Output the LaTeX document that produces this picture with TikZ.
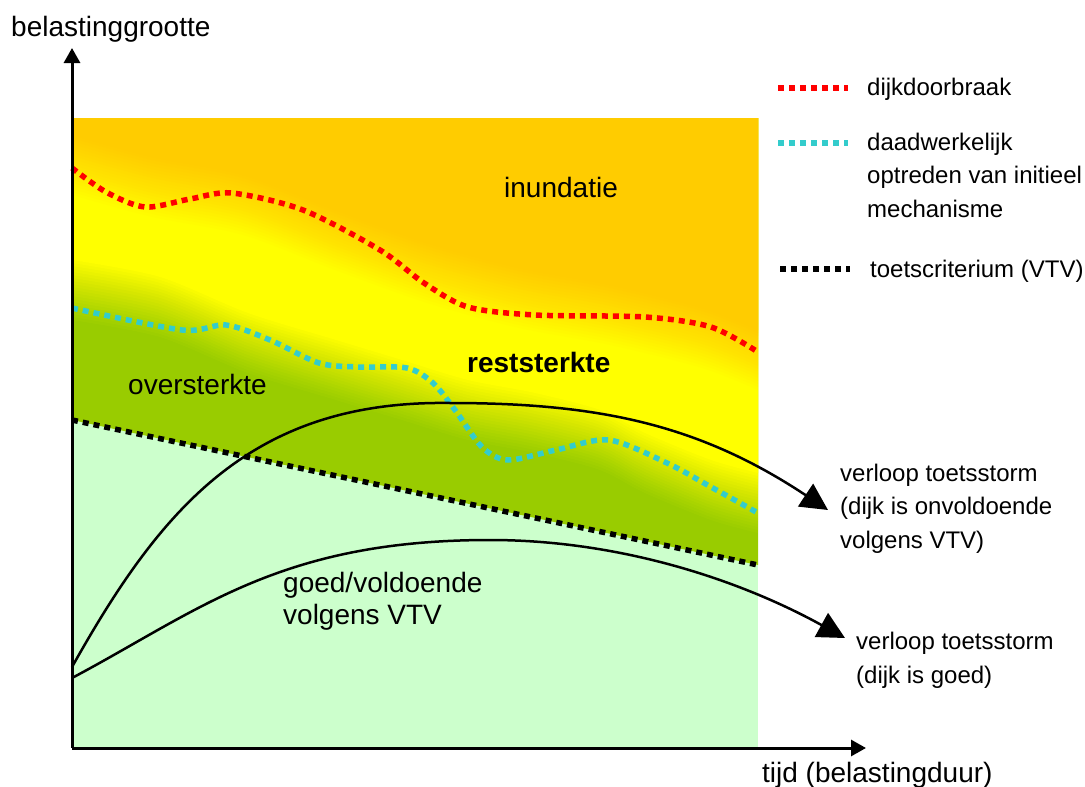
\documentclass[tikz,border=0pt]{standalone}
\usepackage{fontspec}
\setmainfont{Liberation Sans}
\usetikzlibrary{arrows.meta}

\definecolor{inund}{HTML}{FFCC00}
\definecolor{rest}{HTML}{FFFF00}
\definecolor{over}{HTML}{99CC00}
\definecolor{goed}{HTML}{CCFFCC}
\definecolor{breuk}{HTML}{FF0000}
\definecolor{init}{HTML}{33CCCC}

\tikzset{
  grens/.style={line width=5.5pt, dash pattern=on 6pt off 5pt},
  storm/.style={line width=2.5pt, -{Triangle[length=27pt,width=27pt]}},
  as/.style={line width=3pt, -{Triangle[length=15pt,width=16pt]}},
  groot/.style={font=\fontsize{28}{32}\selectfont, inner sep=0pt, align=left, anchor=base west},
  klein/.style={font=\fontsize{24}{33.3}\selectfont, inner sep=0pt, align=left, anchor=base west},
}

\begin{document}
\begin{tikzpicture}[x=1pt,y=-1pt]
\useasboundingbox (0,0) rectangle (1085,787);

\coordinate (o) at (72,748);
\coordinate (ytop) at (72,48);
\coordinate (xend) at (866,748);
\coordinate (t1) at (72,420);
\coordinate (t2) at (758,565);

% vlakken
\fill[goed] (72,118) rectangle (758,748);
\begin{scope}
\clip (72,118) rectangle (758,748);
\fill[over] (t1) -- (t2) -- (800,565) -- (800,60) -- (40,60) -- (40,420) -- cycle;

% zachte overgangen
\foreach \s [count=\k, evaluate=\k as \op using 1/(22-\k)] in {-30,-27,...,30} {
  \fill[rest, opacity=\op, yshift=\s pt] (40,60) -- (40,290)
    -- plot[smooth] coordinates {(72,290) (160,307) (248,343) (336,370) (402,390) (468,410) (535,423) (600,440) (645,463) (711,490) (758,503)}
    -- (800,503) -- (800,60) -- cycle;
}
\foreach \s [count=\k, evaluate=\k as \op using 1/(22-\k)] in {-30,-27,...,30} {
  \fill[inund, opacity=\op, yshift=\s pt] (40,60) -- (40,165)
    -- plot[smooth] coordinates {(72,165) (152,187) (243,205) (335,240) (427,273) (519,298) (610,315) (702,338) (758,360)}
    -- (800,360) -- (800,60) -- cycle;
}
\end{scope}

% grenzen
\draw[grens] (t1) -- (t2);
\draw[grens, init] plot[smooth] coordinates {(72,308) (182,330) (226,325) (270,340) (319,363) (358,367) (407,368) (433,383) (455,410) (482,447) (508,460) (556,450) (609,440) (667,463) (711,487) (758,513)};
\draw[grens, breuk] plot[smooth] coordinates {(72,168) (106,192) (145,207) (190,199) (232,193) (303,210) (380,250) (424,283) (468,307) (535,315) (645,317) (711,327) (758,352)};

% toetsstormen
\coordinate (s1) at (828,510);
\coordinate (s2) at (845,638);
\draw[storm] (72,667) .. controls (160,510) and (250,400) .. (450,403)
  .. controls (600,403) and (700,425) .. (s1);
\draw[storm] (72,678) .. controls (200,610) and (280,540) .. (490,540)
  .. controls (620,540) and (740,580) .. (s2);

% assen
\draw[as] (o) -- (ytop);
\draw[as] (o) -- (xend);

\node[groot] (yas) at (11,36) {belastinggrootte};
\node[groot] (xas) at (762,782) {tijd (belastingduur)};
\node[groot] (inundatie) at (504,197) {inundatie};
\node[groot, font=\fontsize{28}{32}\selectfont\bfseries] (reststerkte) at (467,372) {reststerkte};
\node[groot] (oversterkte) at (128,394) {oversterkte};
\node[groot] (voldoende) at (283,624) {goed/voldoende\\volgens VTV};

\node[klein] (onvoldoende) at (840,548) {verloop toetsstorm\\(dijk is onvoldoende\\volgens VTV)};
\node[klein] (goedstorm) at (856,683) {verloop toetsstorm\\(dijk is goed)};

% legenda
\coordinate (l1a) at (778,88);  \coordinate (l1b) at (848,88);
\coordinate (l2a) at (778,143); \coordinate (l2b) at (848,143);
\coordinate (l3a) at (780,269); \coordinate (l3b) at (850,269);
\draw[grens, breuk] (l1a) -- (l1b);
\draw[grens, init] (l2a) -- (l2b);
\draw[grens] (l3a) -- (l3b);
\node[klein] (dijkdoorbraak) at (867,95) {dijkdoorbraak};
\node[klein] (initieel) at (867,217) {daadwerkelijk\\optreden van initieel\\mechanisme};
\node[klein] (vtv) at (870,277) {toetscriterium (VTV)};

\end{tikzpicture}
\end{document}
